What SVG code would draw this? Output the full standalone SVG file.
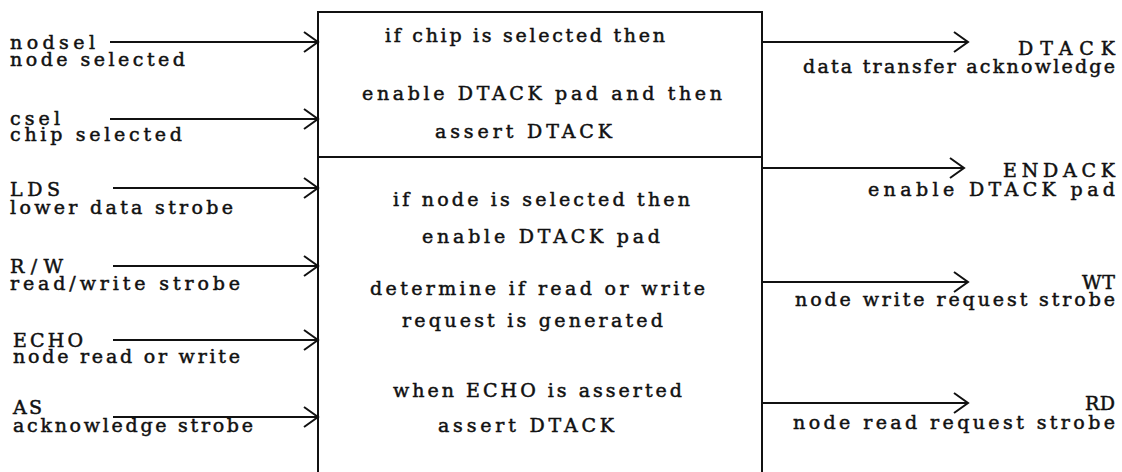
<svg xmlns="http://www.w3.org/2000/svg" width="1122" height="472" viewBox="0 0 1122 472">
<style>
text{font-family:"DejaVu Serif","Liberation Serif",serif;font-size:19px;fill:#111;stroke:#111;stroke-width:0.5}
.ln{stroke:#111;stroke-width:2;fill:none}
</style>
<defs>
<marker id="ah" markerUnits="userSpaceOnUse" markerWidth="18" markerHeight="24" refX="15" refY="11" orient="auto">
<path d="M1,1 L15,11 L1,21" fill="none" stroke="#111" stroke-width="2"/>
</marker>
</defs>
<rect width="1122" height="472" fill="#fff"/>
<g id="box">
<path class="ln" d="M318,480 L318,12 L762,12 L762,480"/>
<line class="ln" x1="318" y1="157" x2="762" y2="157"/>
</g>
<g id="box-top">
<text x="385" y="42" textLength="280" lengthAdjust="spacing">if chip is selected then</text>
<text x="362" y="100" textLength="360" lengthAdjust="spacing">enable DTACK pad and then</text>
<text x="435" y="138" textLength="177" lengthAdjust="spacing">assert DTACK</text>
</g>
<g id="box-bottom">
<text x="393" y="206" textLength="297" lengthAdjust="spacing">if node is selected then</text>
<text x="422" y="243" textLength="238" lengthAdjust="spacing">enable DTACK pad</text>
<text x="370" y="295" textLength="335" lengthAdjust="spacing">determine if read or write</text>
<text x="402" y="327" textLength="261" lengthAdjust="spacing">request is generated</text>
<text x="393" y="397" textLength="289" lengthAdjust="spacing">when ECHO is asserted</text>
<text x="438" y="432" textLength="176" lengthAdjust="spacing">assert DTACK</text>
</g>
<g id="connectors">
<line class="ln" x1="110" y1="42" x2="318" y2="42" marker-end="url(#ah)"/>
<line class="ln" x1="110" y1="119" x2="318" y2="119" marker-end="url(#ah)"/>
<line class="ln" x1="113" y1="188" x2="318" y2="188" marker-end="url(#ah)"/>
<line class="ln" x1="113" y1="266" x2="318" y2="266" marker-end="url(#ah)"/>
<line class="ln" x1="113" y1="340" x2="318" y2="340" marker-end="url(#ah)"/>
<line class="ln" x1="113" y1="417" x2="318" y2="417" marker-end="url(#ah)"/>
<line class="ln" x1="762" y1="42" x2="968" y2="42" marker-end="url(#ah)"/>
<line class="ln" x1="762" y1="168" x2="964" y2="168" marker-end="url(#ah)"/>
<line class="ln" x1="762" y1="282" x2="968" y2="282" marker-end="url(#ah)"/>
<line class="ln" x1="762" y1="403" x2="968" y2="403" marker-end="url(#ah)"/>
</g>
<g id="in-nodsel">
<text x="10" y="49" textLength="85" lengthAdjust="spacing">nodsel</text>
<text x="10" y="66" textLength="175" lengthAdjust="spacing">node selected</text>
</g>
<g id="in-csel">
<text x="10" y="125" textLength="50" lengthAdjust="spacing">csel</text>
<text x="10" y="141" textLength="172" lengthAdjust="spacing">chip selected</text>
</g>
<g id="in-lds">
<text x="10" y="196" textLength="50" lengthAdjust="spacing">LDS</text>
<text x="10" y="214" textLength="223" lengthAdjust="spacing">lower data strobe</text>
</g>
<g id="in-rw">
<text x="10" y="273" textLength="53" lengthAdjust="spacing">R/W</text>
<text x="10" y="290" textLength="230" lengthAdjust="spacing">read/write strobe</text>
</g>
<g id="in-echo">
<text x="13" y="347" textLength="70" lengthAdjust="spacing">ECHO</text>
<text x="13" y="363" textLength="227" lengthAdjust="spacing">node read or write</text>
</g>
<g id="in-as">
<text x="13" y="414" textLength="29" lengthAdjust="spacing">AS</text>
<text x="13" y="432" textLength="240" lengthAdjust="spacing">acknowledge strobe</text>
</g>
<g id="out-dtack">
<text x="1018" y="55" textLength="97" lengthAdjust="spacing">DTACK</text>
<text x="803" y="73" textLength="312" lengthAdjust="spacing">data transfer acknowledge</text>
</g>
<g id="out-endack">
<text x="1003" y="177" textLength="112" lengthAdjust="spacing">ENDACK</text>
<text x="868" y="196" textLength="247" lengthAdjust="spacing">enable DTACK pad</text>
</g>
<g id="out-wt">
<text x="1082" y="289" textLength="33" lengthAdjust="spacing">WT</text>
<text x="795" y="306" textLength="320" lengthAdjust="spacing">node write request strobe</text>
</g>
<g id="out-rd">
<text x="1085" y="410" textLength="30" lengthAdjust="spacing">RD</text>
<text x="793" y="429" textLength="322" lengthAdjust="spacing">node read request strobe</text>
</g>
</svg>
